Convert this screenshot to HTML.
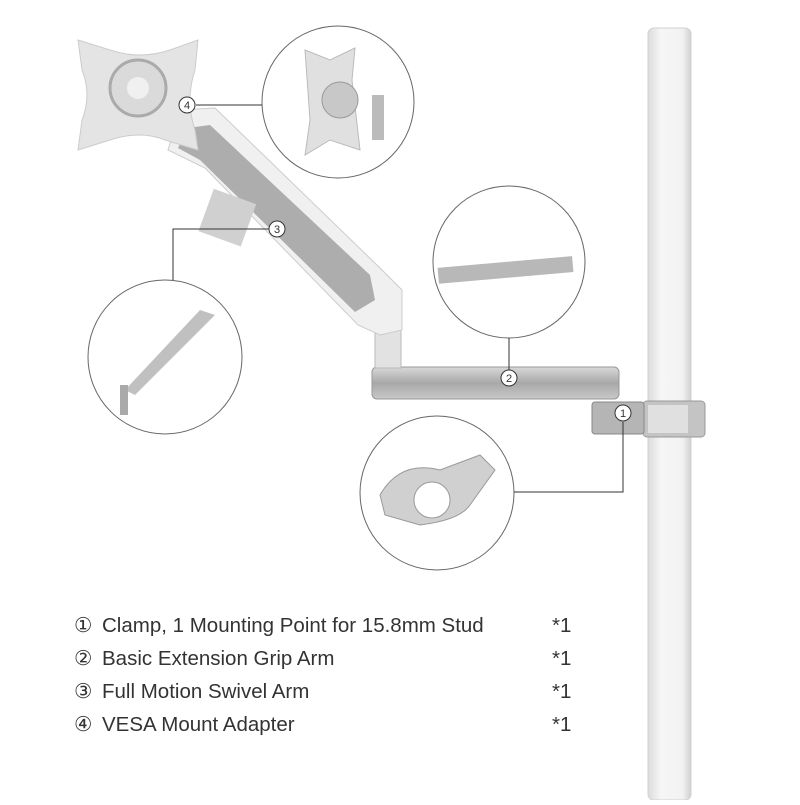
<!DOCTYPE html>
<html><head><style>
body{margin:0;background:#fff;}
.t{font-family:"Liberation Sans","DejaVu Sans",sans-serif;font-size:20.5px;fill:#333;}
</style></head><body>
<svg width="800" height="800" viewBox="0 0 800 800" xmlns="http://www.w3.org/2000/svg">
<defs>
<linearGradient id="pole" x1="0" x2="1"><stop offset="0" stop-color="#dcdcdc"/><stop offset="0.3" stop-color="#f6f6f6"/><stop offset="0.8" stop-color="#f2f2f2"/><stop offset="1" stop-color="#d0d0d0"/></linearGradient>
<linearGradient id="bar" x1="0" y1="0" x2="0" y2="1"><stop offset="0" stop-color="#d8d8d8"/><stop offset="0.5" stop-color="#a8a8a8"/><stop offset="1" stop-color="#c8c8c8"/></linearGradient>
</defs>
<rect x="648" y="28" width="43" height="772" rx="6" fill="url(#pole)" stroke="#d0d0d0"/>
<rect x="643" y="401" width="62" height="36" rx="4" fill="#c4c4c4" stroke="#999"/>
<rect x="648" y="405" width="40" height="28" fill="#e0e0e0"/>
<rect x="592" y="402" width="52" height="32" rx="3" fill="#b5b5b5" stroke="#888"/>
<rect x="372" y="367" width="247" height="32" rx="5" fill="url(#bar)" stroke="#999"/>
<rect x="375" y="290" width="26" height="78" fill="#e2e2e2" stroke="#bbb"/>
<polygon points="180,110 215,108 380,268 402,290 402,330 380,335 358,325 205,168 168,150" fill="#f0f0f0" stroke="#ccc"/>
<polygon points="188,128 210,125 370,275 375,300 355,312 200,160 178,148" fill="#adadad"/>
<rect x="205" y="195" width="45" height="45" fill="#d0d0d0" transform="rotate(20 227 217)"/>
<path d="M78,40 L110,50 Q140,60 170,50 L198,40 L195,70 Q185,100 195,130 L198,150 L165,140 Q140,130 110,140 L78,150 L82,120 Q92,95 82,70 Z" fill="#e4e4e4" stroke="#ccc"/>
<circle cx="138" cy="88" r="28" fill="#dadada" stroke="#aaa" stroke-width="3"/>
<circle cx="138" cy="88" r="11" fill="#f0f0f0"/>
<g fill="#fff" stroke="#666" stroke-width="1">
<circle cx="338" cy="102" r="76"/>
<circle cx="509" cy="262" r="76"/>
<circle cx="165" cy="357" r="77"/>
<circle cx="437" cy="493" r="77"/>
</g>
<path d="M305,50 L330,60 L355,48 L352,80 L360,150 L330,140 L305,155 L310,120 Z" fill="#e0e0e0" stroke="#bbb"/>
<circle cx="340" cy="100" r="18" fill="#c8c8c8" stroke="#999"/>
<rect x="372" y="95" width="12" height="45" fill="#bbb"/>
<rect x="438" y="262" width="135" height="16" fill="#b8b8b8" transform="rotate(-5 505 270)"/>
<polygon points="125,390 200,310 215,315 135,395" fill="#c0c0c0"/>
<rect x="120" y="385" width="8" height="30" fill="#aaa"/>
<path d="M380,495 Q400,460 440,470 L480,455 L495,470 L470,505 Q460,520 420,525 L385,515 Z" fill="#d0d0d0" stroke="#999"/>
<circle cx="432" cy="500" r="18" fill="#fff" stroke="#999"/>
<g stroke="#333" stroke-width="1" fill="none">
<line x1="196" y1="105" x2="262" y2="105"/>
<polyline points="269,229 173,229 173,280"/>
<line x1="509" y1="370" x2="509" y2="338"/>
<polyline points="623,422 623,492 514,492"/>
</g>
<g fill="#fff" stroke="#333" stroke-width="1">
<circle cx="187" cy="105" r="8"/>
<circle cx="277" cy="229" r="8"/>
<circle cx="509" cy="378" r="8"/>
<circle cx="623" cy="413" r="8"/>
</g>
<g font-family="Liberation Sans, sans-serif" font-size="11" fill="#333" text-anchor="middle">
<text x="187" y="109">4</text><text x="277" y="233">3</text><text x="509" y="382">2</text><text x="623" y="417">1</text>
</g>
<g class="t">
<text x="74" y="632">①</text><text x="102" y="632">Clamp, 1 Mounting Point for 15.8mm Stud</text>
<text x="74" y="665">②</text><text x="102" y="665">Basic Extension Grip Arm</text>
<text x="74" y="698">③</text><text x="102" y="698">Full Motion Swivel Arm</text>
<text x="74" y="731">④</text><text x="102" y="731">VESA Mount Adapter</text>
<text x="552" y="632">*1</text>
<text x="552" y="665">*1</text>
<text x="552" y="698">*1</text>
<text x="552" y="731">*1</text>
</g>
</svg>
</body></html>
